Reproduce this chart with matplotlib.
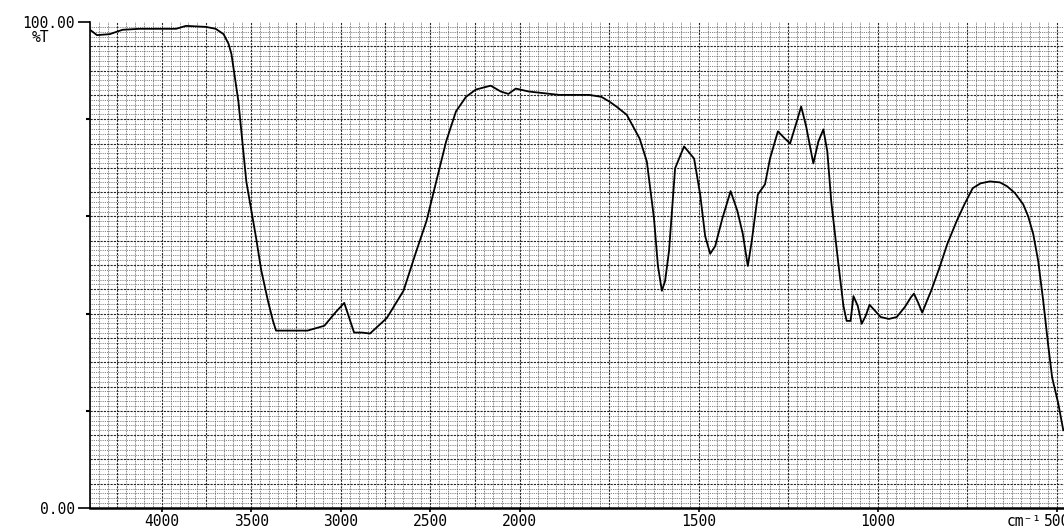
import numpy as np
import matplotlib
matplotlib.use('Agg')
import matplotlib.pyplot as plt

# IR spectrum, values
wavenumber = [4400, 4361, 4290, 4218, 4124, 4030, 3919, 3864, 3754, 3698, 3654, 3626,
              3610, 3571, 3527, 3472, 3444, 3406, 3378, 3361, 3295, 3185, 3091,
              3030, 2980, 2952, 2925, 2881, 2836, 2742, 2649, 2577, 2521, 2466, 2411,
              2356, 2300, 2245, 2162, 2106, 2063, 2022, 1975, 1890, 1806, 1772, 1749,
              1730, 1701, 1665, 1645, 1625, 1614, 1603, 1594, 1583, 1566, 1541, 1513,
              1496, 1482, 1468, 1454, 1434, 1411, 1392, 1377, 1363, 1352, 1335, 1315,
              1301, 1279, 1262, 1245, 1228, 1214, 1200, 1180, 1166, 1152, 1141, 1130,
              1110, 1096, 1087, 1076, 1068, 1056, 1045, 1034, 1023, 1008, 992, 969,
              947, 924, 907, 899, 887, 876, 865, 851, 828, 806, 780, 758, 735, 713,
              687, 659, 639, 617, 594, 580, 566, 552, 538, 524, 513, 496, 482]
transmittance = [98.4, 97.3, 97.5, 98.4, 98.6, 98.6, 98.6, 99.2, 99.0, 98.6, 97.5, 95.5,
                 93.4, 83.6, 67.2, 55.5, 49.0, 42.6, 38.5, 36.5, 36.5, 36.5, 37.5,
                 40.2, 42.2, 39.1, 36.1, 36.1, 35.9, 39.1, 44.7, 52.9, 59.0, 67.2, 75.4,
                 81.6, 84.6, 86.1, 86.9, 85.7, 85.2, 86.3, 85.7, 85.0, 85.0, 84.6, 83.6,
                 82.6, 80.9, 76.0, 71.3, 59.6, 49.8, 44.7, 46.7, 52.9, 69.9, 74.4, 71.9,
                 64.5, 55.9, 52.3, 53.9, 59.6, 65.2, 61.1, 56.4, 49.8, 54.9, 64.5, 66.6,
                 71.9, 77.5, 76.2, 75.0, 79.1, 82.6, 78.5, 70.9, 75.4, 77.9, 73.4, 63.1,
                 50.2, 41.6, 38.5, 38.5, 43.6, 41.6, 37.9, 39.5, 41.8, 40.6, 39.3, 38.9,
                 39.3, 41.4, 43.4, 44.1, 42.2, 40.2, 42.2, 44.7, 49.4, 54.3, 59.0, 62.5,
                 65.8, 66.8, 67.2, 67.0, 66.2, 64.8, 62.5, 60.0, 56.4, 50.8, 42.6, 33.4,
                 26.8, 21.5, 16.0]
tick_values = [4000, 3500, 3000, 2500, 2000, 1500, 1000, 500]


# scale changes at 2000 cm-1: the low range is drawn twice as wide
def forward(w):
    w = np.asarray(w, dtype=float)
    return np.where(w >= 2000, w, 2 * w - 2000)


def inverse(u):
    u = np.asarray(u, dtype=float)
    return np.where(u >= 2000, u, (u + 2000) / 2)


mono = 'DejaVu Sans Mono'
fs = 10.5
fig = plt.figure(figsize=(10.64, 5.29), dpi=100)
ax = fig.add_axes([90 / 1064, 1 - 508 / 529, 974 / 1064, 486 / 529])
ax.set_xscale('function', functions=(forward, inverse))
ax.set_xlim(4400, 480)
ax.set_ylim(0, 100)

# chart-paper grid
for w in list(range(4400, 2000, -50)) + list(range(2000, 475, -25)):
    major = (w % 250 == 0)
    ax.axvline(w, color='0.15' if major else '0.35', lw=0.8 if major else 0.6,
               ls=(0, (2, 1)) if major else (0, (1, 1)), zorder=0)
for t in range(1, 100):
    major = (t % 5 == 0)
    ax.axhline(t, color='0.15' if major else '0.35', lw=0.8 if major else 0.6,
               ls=(0, (2, 1)) if major else (0, (1, 1.2)), zorder=0)

ax.plot(wavenumber, transmittance, color='black', lw=1.3, zorder=3)

for s in ['top', 'right']:
    ax.spines[s].set_visible(False)
ax.spines['left'].set_linewidth(1.2)
ax.spines['bottom'].set_linewidth(1.8)

ax.set_xticks(tick_values, [str(v) for v in tick_values])
ax.xaxis.set_minor_locator(matplotlib.ticker.NullLocator())
ax.tick_params(axis='x', direction='out', length=3, width=1.2, pad=1.5,
               labelsize=fs)
ax.set_yticks([0, 100], ['0.00', '100.00'])
ax.set_yticks([20, 40, 60, 80], minor=True)
ax.tick_params(axis='y', which='major', direction='out', length=9, width=1.2,
               pad=2, labelsize=fs)
ax.tick_params(axis='y', which='minor', direction='out', length=3, width=1.5)
for lab in ax.get_xticklabels() + ax.get_yticklabels():
    lab.set_fontfamily(mono)

fig.text(40 / 1064, 1 - 38 / 529, '%T', family=mono, fontsize=fs,
         ha='center', va='center')
ax.text(592, -0.012, 'cm⁻¹', family=mono, fontsize=fs, ha='center', va='top',
        transform=ax.get_xaxis_transform())

fig.savefig('out.png', dpi=100)
